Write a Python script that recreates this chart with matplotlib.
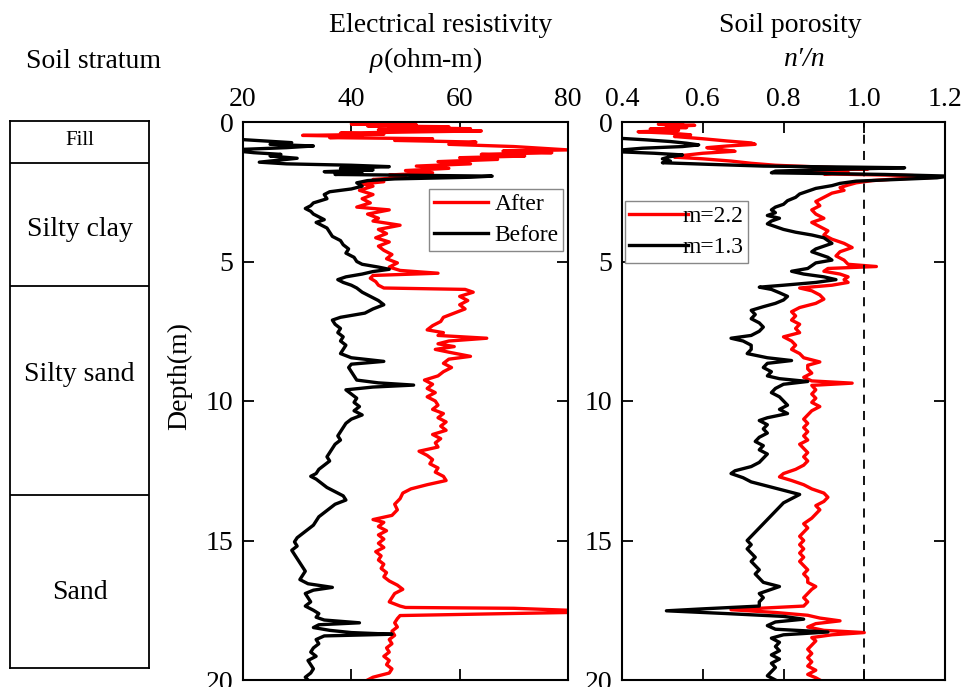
import matplotlib
matplotlib.use("Agg")
import matplotlib.pyplot as plt

plt.rcParams['font.family'] = ['Liberation Serif', 'DejaVu Serif']
plt.rcParams['mathtext.fontset'] = 'custom'
plt.rcParams['mathtext.rm'] = 'Liberation Serif'
plt.rcParams['mathtext.it'] = 'Liberation Serif:italic'

# soil layers (depth of lower boundary, label, label depth)
layer_bottoms = [1.5, 5.9, 13.4, 19.6]
layer_names = ["Fill", "Silty clay", "Silty sand", "Sand"]
layer_label_depth = [0.7, 3.9, 9.1, 16.9]

# resistivity after
res_after_d = [0.00, 0.04, 0.07, 0.10, 0.14, 0.17, 0.20, 0.24, 0.28, 0.32, 0.36, 0.40, 0.44, 0.48, 0.52, 0.56,
               0.60, 0.66, 0.72, 0.80, 0.88, 0.95, 1.00, 1.04, 1.10, 1.16, 1.22, 1.28, 1.34, 1.42, 1.50, 1.58,
               1.66, 1.74, 1.82, 1.90, 1.98, 2.06, 2.14, 2.22, 2.30, 2.45, 2.60, 2.75, 2.90, 3.05, 3.15, 3.30,
               3.45, 3.55, 3.70, 3.85, 4.00, 4.15, 4.30, 4.45, 4.60, 4.75, 4.90, 5.05, 5.20, 5.32, 5.42, 5.50,
               5.60, 5.72, 5.85, 5.95, 6.00, 6.10, 6.25, 6.40, 6.55, 6.70, 6.85, 7.00, 7.15, 7.30, 7.45, 7.55,
               7.65, 7.75, 7.85, 7.95, 8.05, 8.15, 8.25, 8.40, 8.50, 8.65, 8.80, 8.95, 9.10, 9.25, 9.40, 9.55,
               9.70, 9.85, 10.00, 10.15, 10.30, 10.45, 10.60, 10.75, 10.90, 11.05, 11.20, 11.35, 11.50, 11.65,
               11.80, 11.95, 12.10, 12.25, 12.40, 12.55, 12.70, 12.85, 13.00, 13.15, 13.30, 13.50, 13.70, 13.90,
               14.10, 14.25, 14.35, 14.50, 14.65, 14.80, 14.95, 15.10, 15.25, 15.40, 15.55, 15.70, 15.85, 16.00,
               16.15, 16.30, 16.45, 16.60, 16.75, 16.90, 17.05, 17.20, 17.35, 17.40, 17.43, 17.50, 17.58, 17.65,
               17.69, 17.80, 17.95, 18.10, 18.25, 18.40, 18.55, 18.70, 18.85, 19.00, 19.15, 19.30, 19.45, 19.60,
               19.75, 19.90, 20.00]
res_after_v = [45, 50, 40, 52, 43, 58, 47, 62, 45, 64, 50, 38, 46, 31, 42, 36,
               55, 48, 63, 58, 70, 76, 80, 68, 77, 64, 72, 60, 67, 56, 62, 52,
               58, 50, 55, 47, 50, 44, 46, 42, 44, 41.5, 44, 42, 43.5, 41, 47, 43,
               45, 44, 49, 45, 46.5, 44.5, 47, 45, 46, 47.5, 46.5, 48.5, 47, 49, 56, 44,
               43.5, 44.5, 45, 46, 61, 62.5, 60, 61.5, 60, 61, 59, 57, 56.5, 55, 54, 57,
               56, 65, 58, 56, 59, 55.5, 58, 62, 58, 57, 58.5, 57, 56, 53.5, 55, 54,
               55.5, 54, 55.5, 56, 55, 57, 56, 57.5, 56.5, 57.5, 55, 56.5, 55.5, 56,
               52.5, 54, 55, 54.5, 56, 55.5, 57, 57.5, 54, 51, 49.5, 49, 48, 48.5,
               47.5, 44, 46, 45, 46.5, 45, 46, 45, 46, 44.5, 45.5, 45, 46, 45.5,
               46.5, 46, 47, 48.5, 49.5, 48, 47.5, 47, 49, 50, 70, 80, 80, 60,
               49, 48.5, 48, 48.5, 47.5, 48, 47, 47.5, 46.5, 47, 46, 47, 46.5, 47.5,
               47, 44, 43]

# resistivity before
res_before_d = [0.62, 0.68, 0.74, 0.80, 0.86, 0.92, 0.98, 1.04, 1.10, 1.16, 1.22, 1.30, 1.38, 1.44, 1.50, 1.55,
                1.60, 1.66, 1.72, 1.78, 1.84, 1.88, 1.94, 1.98, 2.04, 2.10, 2.18, 2.30, 2.40, 2.50, 2.60, 2.75,
                2.90, 3.00, 3.10, 3.20, 3.30, 3.40, 3.50, 3.60, 3.70, 3.80, 3.95, 4.10, 4.25, 4.40, 4.55, 4.70,
                4.85, 5.00, 5.10, 5.20, 5.28, 5.36, 5.45, 5.55, 5.65, 5.75, 5.85, 5.95, 6.10, 6.25, 6.40, 6.55,
                6.70, 6.85, 7.00, 7.10, 7.25, 7.40, 7.55, 7.70, 7.85, 8.00, 8.15, 8.30, 8.45, 8.58, 8.68, 8.80,
                8.95, 9.10, 9.25, 9.35, 9.43, 9.50, 9.60, 9.75, 9.90, 10.05, 10.20, 10.35, 10.50, 10.65, 10.80,
                10.95, 11.10, 11.25, 11.40, 11.55, 11.70, 11.85, 12.00, 12.15, 12.30, 12.45, 12.60, 12.70, 12.80,
                12.95, 13.10, 13.25, 13.40, 13.55, 13.70, 13.85, 14.00, 14.15, 14.30, 14.45, 14.60, 14.75, 14.90,
                15.05, 15.20, 15.35, 15.50, 15.65, 15.80, 15.95, 16.10, 16.25, 16.40, 16.55, 16.68, 16.78, 16.90,
                17.05, 17.20, 17.35, 17.50, 17.62, 17.75, 17.85, 17.95, 18.02, 18.12, 18.22, 18.30, 18.36, 18.42,
                18.55, 18.70, 18.85, 19.00, 19.15, 19.30, 19.45, 19.60, 19.75, 19.90, 20.00]
res_before_v = [19, 24, 29, 25, 33, 28, 20, 19, 22, 27, 25, 30, 26, 23, 28, 40,
                47, 38, 44, 35, 42, 37, 66, 62, 48, 43, 41, 42, 40, 36, 35, 35.5,
                33, 32.5, 31.5, 32.5, 33, 34, 35, 33.5, 34.5, 35.5, 36, 36.5, 38, 38.5, 39.5, 39,
                40.5, 41, 42, 45, 47, 44, 42, 39, 37.5, 38.5, 40, 41, 42, 43.5, 45, 46,
                44, 42.5, 38, 36.5, 37, 38, 37.5, 38.5, 38, 39, 38.5, 38, 40, 46, 40, 39.5,
                40, 40.5, 41, 45, 51.5, 44, 39, 40, 41, 40.5, 41.5, 40.5, 42, 40, 39,
                38.5, 38, 37.5, 38, 37, 36.5, 36, 35.5, 36, 35, 34, 33.5, 32.5, 33.5,
                34.5, 35.5, 37, 38.5, 39, 37, 36, 35, 34, 33.5, 33, 32, 31, 30,
                29.5, 30, 29, 29.5, 30, 30.5, 31, 31.5, 31, 30.5, 32, 36.5, 33, 31.5,
                32, 32.5, 31.5, 33, 34, 33.5, 35, 41.5, 34, 33, 36, 40, 47.5, 35,
                33.5, 34, 33, 32.5, 33.5, 32, 32.5, 33, 32.5, 31.5, 32]

# porosity m = 2.2
por_22_d = [0.00, 0.04, 0.08, 0.12, 0.16, 0.20, 0.25, 0.30, 0.35, 0.40, 0.46, 0.52, 0.60, 0.68, 0.75, 0.80,
            0.86, 0.92, 0.98, 1.05, 1.12, 1.20, 1.26, 1.32, 1.40, 1.48, 1.55, 1.62, 1.68, 1.74, 1.80, 1.86,
            1.92, 1.98, 2.04, 2.10, 2.18, 2.26, 2.35, 2.45, 2.55, 2.70, 2.85, 3.00, 3.15, 3.30, 3.45, 3.60,
            3.75, 3.90, 4.05, 4.20, 4.35, 4.50, 4.65, 4.80, 4.95, 5.10, 5.18, 5.25, 5.35, 5.45, 5.55, 5.65,
            5.75, 5.85, 5.95, 6.05, 6.20, 6.35, 6.50, 6.65, 6.80, 6.95, 7.10, 7.25, 7.40, 7.55, 7.70, 7.85,
            8.00, 8.15, 8.30, 8.45, 8.60, 8.72, 8.85, 9.00, 9.15, 9.28, 9.36, 9.44, 9.60, 9.75, 9.90, 10.05,
            10.20, 10.35, 10.50, 10.65, 10.80, 10.95, 11.10, 11.25, 11.40, 11.55, 11.70, 11.85, 12.00, 12.15,
            12.30, 12.45, 12.60, 12.72, 12.85, 13.00, 13.15, 13.30, 13.45, 13.60, 13.75, 13.90, 14.05, 14.20,
            14.40, 14.55, 14.70, 14.85, 15.00, 15.15, 15.30, 15.45, 15.60, 15.75, 15.90, 16.05, 16.20, 16.35,
            16.50, 16.65, 16.75, 16.90, 17.05, 17.20, 17.35, 17.48, 17.58, 17.68, 17.78, 17.88, 17.98, 18.10,
            18.22, 18.30, 18.38, 18.48, 18.60, 18.75, 18.90, 19.05, 19.20, 19.35, 19.50, 19.65, 19.80, 19.92,
            20.00]
por_22_v = [0.50, 0.55, 0.49, 0.58, 0.51, 0.56, 0.47, 0.54, 0.44, 0.52, 0.57, 0.53, 0.60, 0.66, 0.72, 0.73,
            0.66, 0.61, 0.64, 0.68, 0.60, 0.55, 0.53, 0.60, 0.67, 0.72, 0.78, 0.90, 1.01, 0.86, 0.96, 0.90,
            1.12, 1.18, 1.08, 1.02, 0.98, 0.96, 0.94, 0.95, 0.92, 0.90, 0.88, 0.89, 0.87, 0.88, 0.90, 0.87,
            0.89, 0.91, 0.90, 0.92, 0.95, 0.97, 0.94, 0.93, 0.95, 0.96, 1.03, 0.91, 0.90, 0.94, 0.96, 0.95,
            0.96, 0.92, 0.84, 0.87, 0.89, 0.90, 0.88, 0.84, 0.82, 0.83, 0.82, 0.84, 0.83, 0.84, 0.80, 0.82,
            0.83, 0.82, 0.84, 0.85, 0.89, 0.86, 0.86, 0.87, 0.85, 0.87, 0.97, 0.87, 0.88, 0.87, 0.88, 0.87,
            0.89, 0.87, 0.86, 0.85, 0.86, 0.85, 0.86, 0.85, 0.86, 0.84, 0.85, 0.86, 0.85, 0.86,
            0.85, 0.83, 0.80, 0.79, 0.82, 0.85, 0.87, 0.90, 0.91, 0.90, 0.88, 0.89, 0.88, 0.87,
            0.85, 0.86, 0.85, 0.84, 0.85, 0.84, 0.85, 0.84, 0.85, 0.84, 0.85, 0.86, 0.85, 0.86,
            0.86, 0.88, 0.87, 0.86, 0.85, 0.86, 0.85, 0.67, 0.78, 0.86, 0.89, 0.94, 0.88, 0.86,
            0.90, 1.00, 0.92, 0.87, 0.88, 0.87, 0.86, 0.87, 0.86, 0.87, 0.86, 0.88, 0.86, 0.88,
            0.89]

# porosity m = 1.3
por_13_d = [0.58, 0.64, 0.70, 0.76, 0.82, 0.88, 0.94, 1.00, 1.06, 1.12, 1.18, 1.24, 1.32, 1.40, 1.46, 1.52,
            1.58, 1.64, 1.70, 1.76, 1.82, 1.88, 1.94, 2.00, 2.06, 2.12, 2.20, 2.28, 2.38, 2.48, 2.58, 2.70,
            2.82, 2.95, 3.05, 3.15, 3.25, 3.35, 3.45, 3.55, 3.65, 3.75, 3.85, 3.95, 4.05, 4.15, 4.25, 4.35,
            4.45, 4.55, 4.65, 4.75, 4.85, 4.95, 5.05, 5.15, 5.25, 5.35, 5.45, 5.55, 5.65, 5.75, 5.85, 5.92,
            6.00, 6.12, 6.25, 6.38, 6.50, 6.62, 6.75, 6.90, 7.05, 7.20, 7.35, 7.50, 7.65, 7.75, 7.85, 8.00,
            8.15, 8.30, 8.45, 8.55, 8.65, 8.80, 8.95, 9.10, 9.20, 9.30, 9.40, 9.55, 9.70, 9.85, 10.00, 10.15,
            10.30, 10.45, 10.60, 10.70, 10.85, 11.00, 11.15, 11.30, 11.45, 11.60, 11.75, 11.90, 12.05, 12.20,
            12.35, 12.50, 12.60, 12.75, 12.90, 13.05, 13.20, 13.35, 13.50, 13.65, 13.80, 13.95, 14.10, 14.25,
            14.40, 14.55, 14.70, 14.85, 15.00, 15.15, 15.30, 15.45, 15.60, 15.75, 15.90, 16.05, 16.20, 16.35,
            16.50, 16.65, 16.75, 16.90, 17.05, 17.20, 17.35, 17.45, 17.52, 17.62, 17.72, 17.82, 17.92, 18.05,
            18.18, 18.28, 18.38, 18.50, 18.65, 18.80, 18.95, 19.10, 19.25, 19.40, 19.55, 19.70, 19.85, 20.00]
por_13_v = [0.39, 0.46, 0.52, 0.56, 0.59, 0.55, 0.45, 0.40, 0.38, 0.48, 0.55, 0.52, 0.50, 0.52, 0.50, 0.62,
            0.75, 1.10, 0.92, 0.78, 0.77, 1.05, 1.21, 1.18, 1.08, 0.98, 0.94, 0.92, 0.88, 0.86, 0.84, 0.83,
            0.81, 0.80, 0.78, 0.77, 0.78, 0.76, 0.79, 0.77, 0.76, 0.78, 0.80, 0.83, 0.87, 0.90, 0.91, 0.92,
            0.90, 0.88, 0.87, 0.89, 0.91, 0.92, 0.88, 0.87, 0.86, 0.82, 0.85, 0.90, 0.93, 0.88, 0.80, 0.74,
            0.77, 0.79, 0.81, 0.80, 0.78, 0.75, 0.72, 0.73, 0.72, 0.74, 0.75, 0.74, 0.72, 0.67, 0.70, 0.72,
            0.72, 0.71, 0.76, 0.82, 0.76, 0.75, 0.77, 0.76, 0.79, 0.86, 0.80, 0.78, 0.77, 0.79, 0.80, 0.81,
            0.79, 0.81, 0.76, 0.74, 0.76, 0.75, 0.76, 0.74, 0.73, 0.75, 0.74, 0.76, 0.75, 0.74,
            0.72, 0.68, 0.67, 0.70, 0.72, 0.76, 0.80, 0.84, 0.82, 0.80, 0.79, 0.78, 0.77, 0.76,
            0.75, 0.74, 0.73, 0.72, 0.71, 0.72, 0.71, 0.72, 0.73, 0.72, 0.73, 0.74, 0.73, 0.74,
            0.75, 0.79, 0.77, 0.74, 0.75, 0.74, 0.74, 0.60, 0.51, 0.66, 0.80, 0.85, 0.78, 0.76,
            0.78, 0.91, 0.80, 0.77, 0.79, 0.78, 0.79, 0.77, 0.79, 0.77, 0.78, 0.77, 0.76, 0.78]

res_ticks = [20, 40, 60, 80]
por_ticks = [0.4, 0.6, 0.8, 1.0, 1.2]
depth_ticks = [0, 5, 10, 15, 20]

fs = 20
lw = 2.4
H = 687.0
W = 976.0

fig = plt.figure(figsize=(9.76, 6.87), dpi=100)
ax0 = fig.add_axes([10 / W, (H - 668) / H, 139 / W, (668 - 121) / H])
ax1 = fig.add_axes([243 / W, (H - 680) / H, 325 / W, 558 / H])
ax2 = fig.add_axes([622 / W, (H - 680) / H, 323 / W, 558 / H])

# stratum column
ax0.set_xlim(0, 1)
ax0.set_ylim(layer_bottoms[-1], 0)
ax0.set_xticks([])
ax0.set_yticks([])
for sp in ax0.spines.values():
    sp.set_linewidth(1.3)
for b in layer_bottoms[:-1]:
    ax0.axhline(b, color='black', lw=1.3)
for name, d in zip(layer_names, layer_label_depth):
    ax0.text(0.5, d, name, ha='center', va='center', fontsize=15 if name == "Fill" else fs)
fig.text(94 / W, 1 - 61 / H, "Soil stratum", ha='center', va='center', fontsize=fs)

def style(ax, xticks, xlim):
    ax.set_ylim(20, 0)
    ax.set_xlim(*xlim)
    ax.set_xticks(xticks)
    ax.set_yticks(depth_ticks)
    ax.xaxis.tick_top()
    ax.tick_params(axis='both', direction='in', length=8, width=1.3, labelsize=fs,
                   top=True, bottom=True, left=True, right=True, pad=7)
    for sp in ax.spines.values():
        sp.set_linewidth(1.5)

ax1.plot(res_after_v, res_after_d, color='red', lw=lw, label='After')
ax1.plot(res_before_v, res_before_d, color='black', lw=lw, label='Before')
style(ax1, res_ticks, (20, 80))
ax1.legend(loc='upper right', bbox_to_anchor=(0.985, 0.88), fontsize=17, frameon=True,
           fancybox=False, edgecolor='#888888', framealpha=1, handlelength=2.3,
           borderpad=0.2, labelspacing=0.4, handletextpad=0.25, borderaxespad=0)
fig.text(180 / W, 1 - 376 / H, "Depth(m)", rotation=90, ha='center', va='center', fontsize=fs)

ax2.plot(por_22_v, por_22_d, color='red', lw=lw, label='m=2.2')
ax2.plot(por_13_v, por_13_d, color='black', lw=lw, label='m=1.3')
ax2.axvline(1.0, color='black', lw=1.3, ls=(0, (5, 4)))
style(ax2, por_ticks, (0.4, 1.2))
ax2.set_xticklabels(["0.4", "0.6", "0.8", "1.0", "1.2"])
ax2.legend(loc='upper left', bbox_to_anchor=(0.008, 0.858), fontsize=17, frameon=True,
           fancybox=False, edgecolor='#888888', framealpha=1, handlelength=2.5,
           borderpad=0.2, labelspacing=0.4, handletextpad=-0.25, borderaxespad=0)

fig.text(441 / W, 1 - 25 / H, "Electrical resistivity", ha='center', va='center', fontsize=fs)
fig.text(426 / W, 1 - 60 / H, r"$\rho$(ohm-m)", ha='center', va='center', fontsize=fs)
fig.text(790 / W, 1 - 25 / H, "Soil porosity", ha='center', va='center', fontsize=fs)
fig.text(804 / W, 1 - 60 / H, "n\u2032/n", ha='center', va='center', fontsize=fs, style='italic')

fig.savefig("out.png", dpi=100)
